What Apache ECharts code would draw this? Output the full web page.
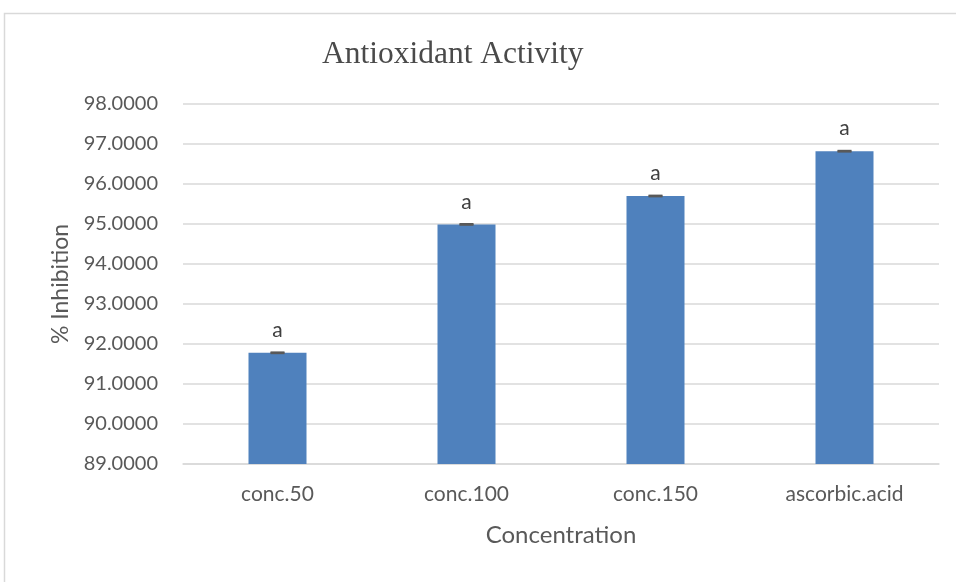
<!DOCTYPE html>
<html>
<head>
<meta charset="utf-8">
<script src="https://cdn.jsdelivr.net/npm/echarts@6/dist/echarts.min.js"></script>
<style>
  html, body { margin: 0; padding: 0; background: #fff; }
  #chart { width: 956px; height: 582px; }
</style>
</head>
<body>
<div id="chart"></div>
<script>
// data
var categories = ['conc.50', 'conc.100', 'conc.150', 'ascorbic.acid'];
var inhibition = [91.78, 94.99, 95.70, 96.82];
var errors = [0.01, 0.01, 0.01, 0.01];
var letters = ['a', 'a', 'a', 'a'];

var myChart = echarts.init(document.getElementById('chart'));

var option = {
  backgroundColor: '#fff',
  animation: false,
  title: {
    text: 'Antioxidant Activity',
    left: 317,
    top: 34,
    textStyle: {
      fontFamily: 'Liberation Serif',
      fontWeight: 'normal',
      fontSize: 31.5,
      color: '#4a4a4a'
    }
  },
  graphic: [{
    type: 'rect',
    shape: { x: 4.5, y: 13.5, width: 1000, height: 700 },
    style: { fill: 'none', stroke: '#d9d9d9', lineWidth: 1.5 },
    silent: true
  }],
  grid: {
    left: 183,
    right: 17,
    top: 104,
    bottom: 118
  },
  xAxis: {
    type: 'category',
    data: categories,
    name: 'Concentration',
    nameLocation: 'middle',
    nameGap: 59,
    nameTextStyle: { fontFamily: 'Lato', fontSize: 24, color: '#595959' },
    axisTick: { show: false },
    axisLine: { lineStyle: { color: '#d9d9d9', width: 1.5 } },
    axisLabel: { fontFamily: 'Lato', fontSize: 21, color: '#595959', margin: 20 }
  },
  yAxis: {
    type: 'value',
    min: 89,
    max: 98,
    interval: 1,
    name: '% Inhibition',
    nameLocation: 'middle',
    nameGap: 111,
    nameRotate: 90,
    nameTextStyle: { fontFamily: 'Lato', fontSize: 23, color: '#595959' },
    axisLine: { show: false },
    axisTick: { show: false },
    splitLine: { lineStyle: { color: '#d9d9d9', width: 1.5 } },
    axisLabel: {
      fontFamily: 'Lato',
      fontSize: 20,
      color: '#595959',
      margin: 25,
      formatter: function (v) { return v.toFixed(4); }
    }
  },
  series: [{
    type: 'bar',
    data: inhibition,
    barWidth: 58,
    itemStyle: { color: '#4f81bd' },
    label: {
      show: true,
      position: 'top',
      distance: 12,
      fontFamily: 'Lato',
      fontSize: 21,
      color: '#404040',
      formatter: function (p) { return letters[p.dataIndex]; }
    },
    z: 2
  }, {
    type: 'custom',
    data: inhibition.map(function (v, i) { return [i, v - errors[i], v + errors[i]]; }),
    renderItem: function (params, api) {
      var lo = api.coord([api.value(0), api.value(1)]);
      var hi = api.coord([api.value(0), api.value(2)]);
      var half = 7;
      return {
        type: 'group',
        children: [
          { type: 'line', shape: { x1: lo[0], y1: lo[1], x2: hi[0], y2: hi[1] }, style: { stroke: '#595959', lineWidth: 1.5 } },
          { type: 'line', shape: { x1: hi[0] - half, y1: hi[1], x2: hi[0] + half, y2: hi[1] }, style: { stroke: '#595959', lineWidth: 2 } },
          { type: 'line', shape: { x1: lo[0] - half, y1: lo[1], x2: lo[0] + half, y2: lo[1] }, style: { stroke: '#595959', lineWidth: 2 } }
        ]
      };
    },
    z: 3,
    silent: true
  }]
};

myChart.setOption(option);
</script>
</body>
</html>
